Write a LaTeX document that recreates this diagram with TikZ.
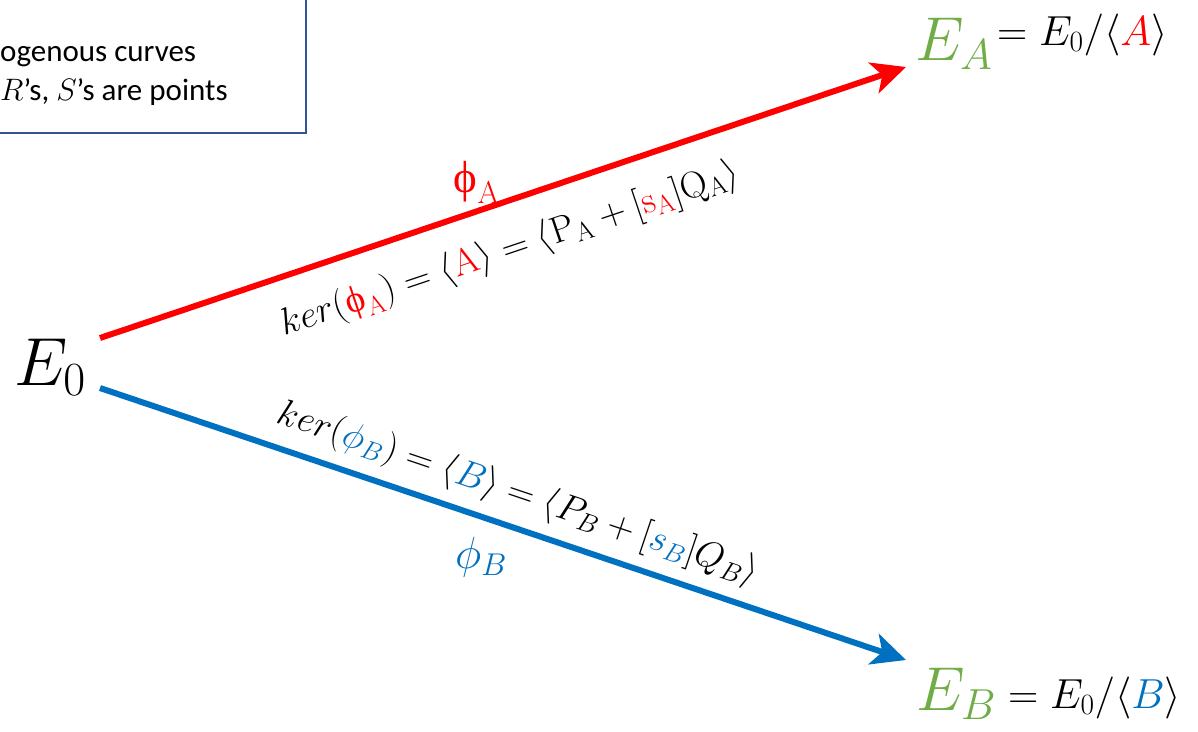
\RequirePackage{fix-cm}
\documentclass[tikz,border=0pt]{standalone}
\usepackage[no-math]{fontspec}
\setmainfont{Carlito}
\newfontfamily\upgr{Liberation Serif}
\usetikzlibrary{arrows.meta}
\definecolor{redA}{HTML}{FF0000}
\definecolor{blueB}{HTML}{0070C0}
\definecolor{greenE}{HTML}{70AD47}
\definecolor{boxblue}{HTML}{2F5597}
\newcommand{\uphi}{\mbox{\upgr ϕ}}
\begin{document}
\begin{tikzpicture}[x=1pt,y=-1pt,
  arr/.style={line width=6pt, -{Stealth[length=34pt,width=32pt,inset=9pt]}},
  boxtext/.style={anchor=base west, inner sep=0pt, font=\fontsize{31}{36}\selectfont},
  bigE/.style={anchor=base west, inner sep=0pt, font=\fontsize{68}{80}\selectfont},
  greenE/.style={anchor=base west, inner sep=0pt, text=greenE, font=\fontsize{62}{72}\selectfont},
  quot/.style={anchor=base west, inner sep=0pt, font=\fontsize{42}{50}\selectfont},
  kerlbl/.style={inner sep=0pt, font=\fontsize{37.5}{44}\selectfont},
  philbl/.style={inner sep=0pt, font=\fontsize{45}{54}\selectfont},
]
\useasboundingbox (0,0) rectangle (1198,731);
\fill[white] (0,0) rectangle (1198,731);
% legend box (cropped)
\draw[boxblue, line width=2pt] (-20,-20) rectangle (306,133);
\node[boxtext] (t1) at (0,61) {ogenous curves};
\node[boxtext] (t2) at (0,100) {$R$’s, $S$’s are points};
% curves
\node[bigE] (E0) at (14,385) {$E_0$};
\node[greenE] (EA) at (915,60) {$E_A$};
\node[quot] (qA) at (997,45) {$= E_0/\langle{\color{redA}A}\rangle$};
\node[greenE] (EB) at (916,710) {$E_B$};
\node[quot] (qB) at (1008,708) {$= E_0/\langle{\color{blueB}B}\rangle$};
% arrows
\coordinate (a0) at (100,338);
\coordinate (a1) at (906,67);
\coordinate (b0) at (100,388);
\coordinate (b1) at (906,660);
\draw[arr, redA] (a0) -- (a1);
\draw[arr, blueB] (b0) -- (b1);
% labels
\node[philbl, text=redA] (phA) at (477,182) {$\uphi_{\mathrm{A}}$};
\node[philbl, text=blueB] (phB) at (481,557) {$\phi_B$};
\node[kerlbl, rotate=18.6] (kA) at (510,250)
  {$ker({\color{redA}\uphi_{\mathrm{A}}}) = \langle{\color{redA}\mathrm{A}}\rangle = \langle \mathrm{P}_{\mathrm{A}} + [{\color{redA}\mathrm{s}_{\mathrm{A}}}]\mathrm{Q}_{\mathrm{A}}\rangle$};
\node[kerlbl, rotate=-18.6] (kB) at (518,494)
  {$ker({\color{blueB}\phi_B}) = \langle{\color{blueB}B}\rangle = \langle P_B + [{\color{blueB}s_B}]Q_B\rangle$};
\end{tikzpicture}
\end{document}
